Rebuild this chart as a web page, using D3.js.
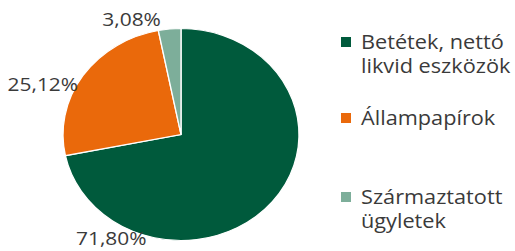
<!DOCTYPE html>
<html>
<head>
<meta charset="utf-8">
<script src="https://cdn.jsdelivr.net/npm/d3@7"></script>
<style>
  body { margin: 0; background: #fff; }
  text { font-family: "Open Sans", "Noto Sans", sans-serif; fill: #3a3a3a; }
</style>
</head>
<body>
<svg id="chart" width="515" height="251"></svg>
<script>
var categories = ["Betétek, nettó likvid eszközök", "Állampapírok", "Származtatott ügyletek"];
var legendLines = [["Betétek, nettó", "likvid eszközök"], ["Állampapírok"], ["Származtatott", "ügyletek"]];
var shares = [71.80, 25.12, 3.08];
var valueLabels = ["71,80%", "25,12%", "3,08%"];
var colors = ["#005a3c", "#ea690b", "#7dae9a"];

var svg = d3.select('#chart');

// the whole picture is stretched a bit sideways, so pie and text get the same x scale
var cx = 181, cy = 134.5, r = 106, sx = 118 / 106;

var pie = d3.pie().sort(null).value(function(d) { return d; });
var arcs = pie(shares);
var arc = d3.arc().innerRadius(0).outerRadius(r);

var g = svg.append('g')
  .attr('transform', 'translate(' + cx + ',' + cy + ') scale(' + sx + ',1)');

g.selectAll('path').data(arcs).enter().append('path')
  .attr('d', arc)
  .attr('fill', function(d, i) { return colors[i]; })
  .attr('stroke', '#fff')
  .attr('stroke-width', 1.2);

// label spots (angle in degrees from top, radius factor), Excel best-fit style
var labelSpots = [[211, 1.148], [292, 1.263], [339, 1.168]];
svg.selectAll('text.val').data(arcs).enter().append('text')
  .attr('class', 'val')
  .attr('transform', function(d, i) {
    var a = labelSpots[i][0] * Math.PI / 180;
    var x = cx + Math.sin(a) * r * sx * labelSpots[i][1];
    var y = cy - Math.cos(a) * r * labelSpots[i][1];
    return 'translate(' + x + ',' + y + ') scale(' + sx + ',1)';
  })
  .attr('dy', '0.35em')
  .attr('text-anchor', 'middle')
  .style('font-size', '18.8px')
  .text(function(d, i) { return valueLabels[i]; });

// legend
var legendY = [37, 113, 192];
var legend = svg.selectAll('g.leg').data(categories).enter().append('g')
  .attr('class', 'leg')
  .attr('transform', function(d, i) { return 'translate(341,' + legendY[i] + ')'; });

legend.append('rect')
  .attr('width', 10).attr('height', 10)
  .attr('fill', function(d, i) { return colors[i]; });

legend.each(function(d, i) {
  var t = d3.select(this).append('text')
    .attr('transform', 'translate(20,11.5) scale(' + sx + ',1)')
    .style('font-size', '19.5px');
  legendLines[i].forEach(function(line, j) {
    t.append('tspan').attr('x', 0).attr('dy', j === 0 ? 0 : 25).text(line);
  });
});
</script>
</body>
</html>
